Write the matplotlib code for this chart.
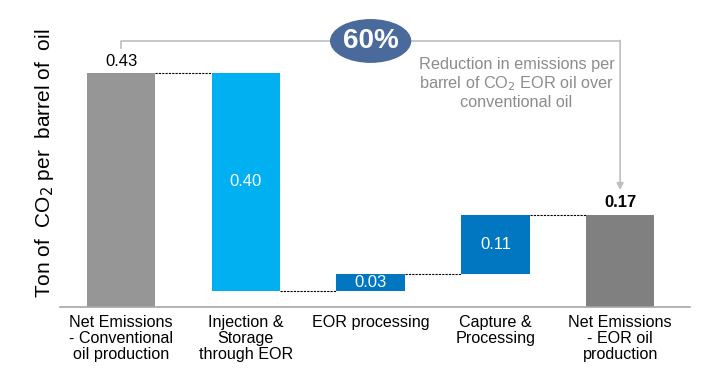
import numpy as np
import matplotlib
matplotlib.use("Agg")
import matplotlib.pyplot as plt
from matplotlib.patches import Ellipse

plt.rcParams['font.family'] = ['Liberation Sans', 'DejaVu Sans']

categories = ["Net Emissions\n- Conventional\noil production",
              "Injection &\nStorage\nthrough EOR",
              "EOR processing",
              "Capture &\nProcessing",
              "Net Emissions\n- EOR oil\nproduction"]
changes = [0.43, -0.40, 0.03, 0.11]
labels = ["0.43", "0.40", "0.03", "0.11", "0.17"]
colors = ["#969696", "#00B0F0", "#0077C0", "#0077C0", "#808080"]
reduction = "60%"

# waterfall bottoms / heights
cum = np.cumsum(changes)
bottoms, heights = [], []
prev = 0.0
for c, level in zip(changes, cum):
    bottoms.append(min(prev, level))
    heights.append(abs(c))
    prev = level
total = cum[-1]
bottoms.append(0.0)
heights.append(total)
tops = [b + h for b, h in zip(bottoms, heights)]

fig = plt.figure(figsize=(7.12, 3.83), dpi=100)
ax = fig.add_axes([60/712, 76/383, 630/712, 287/383])
x = np.arange(len(categories))
w = 0.55
ax.bar(x, heights, bottom=bottoms, width=w, color=colors, zorder=2)

ax.set_xlim(-0.49, 4.56)
ax.set_ylim(0, 287/544)

# connectors
levels = [tops[0], bottoms[1], tops[2], tops[3]]
for i, lv in enumerate(levels):
    ax.plot([i + w/2, i + 1 - w/2], [lv, lv], color="black", lw=0.8,
            ls=(0, (2, 1)), zorder=1)

# value labels
ax.text(0, tops[0] + 0.008, labels[0], ha="center", va="bottom", fontsize=12)
for i in (1, 2, 3):
    ax.text(i, bottoms[i] + heights[i]/2, labels[i], ha="center", va="center",
            fontsize=12, color="white")
ax.text(4, tops[4] + 0.008, labels[4], ha="center", va="bottom", fontsize=12,
        fontweight="bold")

# bracket annotation
y0, y1 = 0.476, 0.489
ax.plot([0, 0, 4], [y0, y1, y1], color="#BFBFBF", lw=1.2, clip_on=False, zorder=3)
ax.annotate("", xy=(4, 0.215), xytext=(4, y1 + 0.001),
            arrowprops=dict(arrowstyle="-|>", color="#BFBFBF", lw=1.2,
                            mutation_scale=10, shrinkA=0, shrinkB=0),
            annotation_clip=False)
ell = Ellipse((2.0, y1), 0.64, 0.078, color="#4A6A9B", clip_on=False, zorder=4)
ax.add_patch(ell)
ax.text(2.0, y1, reduction, ha="center", va="center", fontsize=20,
        fontweight="bold", color="white", zorder=5)
ax.text(3.17, 0.460, "Reduction in emissions per\nbarrel of CO$_2$ EOR oil over\nconventional oil",
        ha="center", va="top", fontsize=11.7, color="#8C8C8C", linespacing=1.17)

ax.set_xticks(x)
ax.set_xticklabels(categories, fontsize=11.6, linespacing=1.07)
ax.tick_params(axis="x", length=0, pad=6)
ax.set_yticks([])
for s in ("top", "right", "left"):
    ax.spines[s].set_visible(False)
ax.spines["bottom"].set_color("#A6A6A6")
ax.spines["bottom"].set_linewidth(1.2)
ax.set_ylabel("Ton of  CO$_2$ per  barrel of  oil", fontsize=15, labelpad=3)

fig.savefig("out.png", dpi=100)
